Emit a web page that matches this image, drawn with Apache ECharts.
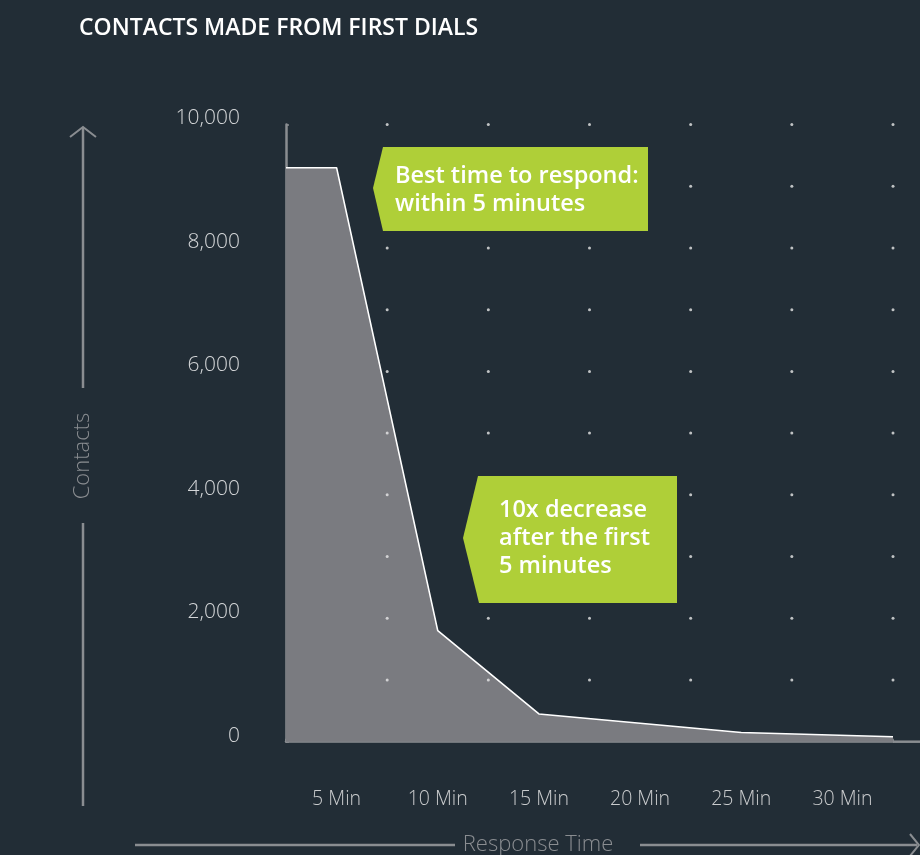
<!DOCTYPE html>
<html>
<head>
<meta charset="utf-8">
<script src="https://cdn.jsdelivr.net/npm/echarts@6/dist/echarts.min.js"></script>
<style>
html,body{margin:0;padding:0;background:#222d36;}
#chart{width:920px;height:855px;}
</style>
</head>
<body>
<div id="chart"></div>
<script>
// ---- data ----
const title = 'CONTACTS MADE FROM FIRST DIALS';
const xLabels = ['5 Min', '10 Min', '15 Min', '20 Min', '25 Min', '30 Min'];
const minutes = [0, 2.5, 7.5, 12.5, 22.5, 30];
const contacts = [9300, 9300, 1800, 450, 150, 80];
const dotMinutes = [5, 10, 15, 20, 25, 30];
const dotContacts = [1000, 2000, 3000, 4000, 5000, 6000, 7000, 8000, 9000, 10000];
const yAxisName = 'Contacts';
const xAxisName = 'Response Time';
const note1 = ['Best time to respond:', 'within 5 minutes'];
const note2 = ['10x decrease', 'after the first', '5 minutes'];

// ---- build ----
const areaData = minutes.map((m, i) => [m, contacts[i]]);
const dots = [];
dotMinutes.forEach(m => dotContacts.forEach(c => dots.push([m, c])));

const chart = echarts.init(document.getElementById('chart'));
const axisGray = '#8a8d91';
const green = '#afcf38';

const option = {
  backgroundColor: '#222d36',
  animation: false,
  title: {
    text: title,
    left: 79, top: 14, padding: 0,
    textStyle: {color: '#ffffff', fontFamily: 'Open Sans', fontWeight: 600, fontSize: 23, lineHeight: 28}
  },
  grid: {left: 286, right: 27, top: 124.5, bottom: 113.3, outerBoundsMode: 'none'},
  xAxis: [{
    type: 'value', min: 0, max: 30, interval: 5,
    axisLine: {show: true, lineStyle: {color: axisGray, width: 2.5}},
    axisTick: {show: true, length: 3, inside: true, lineStyle: {color: axisGray, width: 1.5}},
    axisLabel: {show: false},
    splitLine: {show: false}
  }, {
    type: 'category', data: xLabels, boundaryGap: true,
    position: 'bottom',
    axisLine: {show: false}, axisTick: {show: false}, splitLine: {show: false},
    axisLabel: {color: '#c9cbcd', fontFamily: 'Open Sans', fontWeight: 300, fontSize: 19.5, margin: 48}
  }],
  yAxis: {
    type: 'value', min: 0, max: 10000, interval: 1000,
    axisLine: {show: true, lineStyle: {color: axisGray, width: 2.5}},
    axisTick: {show: true, length: 3, inside: true, lineStyle: {color: axisGray, width: 1.5}},
    splitLine: {show: false},
    axisLabel: {
      color: '#d4d6d8', fontFamily: 'Open Sans', fontWeight: 300, fontSize: 21, margin: 46,
      verticalAlign: 'bottom', lineHeight: 12,
      formatter: v => (v % 2000 === 0 ? v.toLocaleString('en-US') : '')
    }
  },
  series: [{
    type: 'line',
    data: areaData,
    xAxisIndex: 0,
    symbol: 'none',
    lineStyle: {color: '#ffffff', width: 1.6},
    areaStyle: {color: '#7a7b80', opacity: 1},
    z: 1
  }, {
    type: 'scatter',
    data: dots,
    xAxisIndex: 0,
    symbol: 'circle', symbolSize: 3,
    itemStyle: {color: '#e8e8e8'},
    silent: true,
    z: 3
  }],
  graphic: [
    // x-axis extension to the edge
    {type: 'line', shape: {x1: 893, y1: 741.7, x2: 920, y2: 741.7}, style: {stroke: axisGray, lineWidth: 2.5}},
    // vertical arrow
    {type: 'line', shape: {x1: 83, y1: 128, x2: 83, y2: 388}, style: {stroke: axisGray, lineWidth: 2.5}},
    {type: 'line', shape: {x1: 83, y1: 523, x2: 83, y2: 806}, style: {stroke: axisGray, lineWidth: 2.5}},
    {type: 'polyline', shape: {points: [[70, 137], [83, 127], [96, 137]]}, style: {stroke: axisGray, lineWidth: 2, fill: null}},
    {type: 'text', x: 83, y: 456, rotation: Math.PI / 2,
      style: {text: yAxisName, fill: axisGray, font: '300 22px "Open Sans"', align: 'center', verticalAlign: 'middle'}},
    // horizontal arrow
    {type: 'line', shape: {x1: 135, y1: 845, x2: 455, y2: 845}, style: {stroke: axisGray, lineWidth: 2.5}},
    {type: 'line', shape: {x1: 640, y1: 845, x2: 917, y2: 845}, style: {stroke: axisGray, lineWidth: 2.5}},
    {type: 'polyline', shape: {points: [[910, 834], [919, 845], [910, 856]]}, style: {stroke: axisGray, lineWidth: 2, fill: null}},
    {type: 'text', x: 538, y: 845,
      style: {text: xAxisName, fill: axisGray, font: '300 22px "Open Sans"', align: 'center', verticalAlign: 'middle'}},
    // annotation 1
    {type: 'polygon', shape: {points: [[383, 147], [648, 147], [648, 231], [383, 231], [373, 188]]}, style: {fill: green}, z: 10},
    {type: 'text', x: 395, y: 190, z: 11,
      style: {text: note1.join('\n'), fill: '#ffffff', font: '600 23.5px "Open Sans"', lineHeight: 28, align: 'left', verticalAlign: 'middle'}},
    // annotation 2
    {type: 'polygon', shape: {points: [[478, 476], [677, 476], [677, 603], [479, 603], [463, 538]]}, style: {fill: green}, z: 10},
    {type: 'text', x: 499, y: 538, z: 11,
      style: {text: note2.join('\n'), fill: '#ffffff', font: '600 23.5px "Open Sans"', lineHeight: 28, align: 'left', verticalAlign: 'middle'}}
  ]
};
chart.setOption(option);
</script>
</body>
</html>
